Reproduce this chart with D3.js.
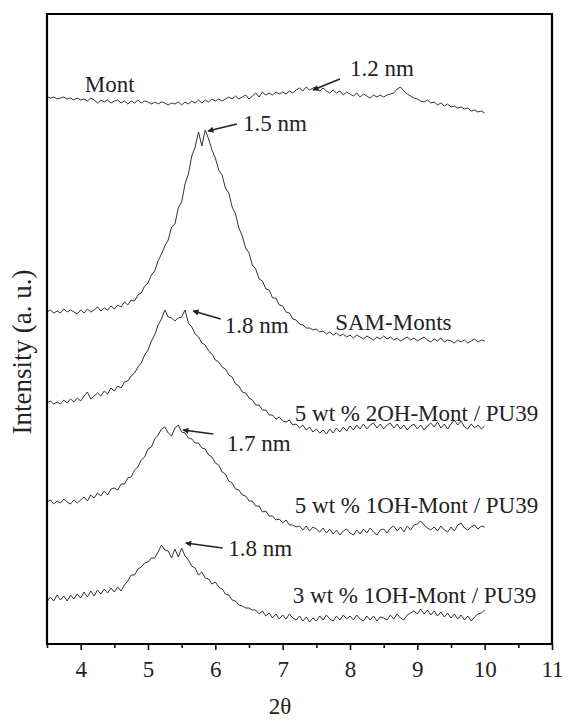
<!DOCTYPE html>
<html>
<head>
<meta charset="utf-8">
<script src="https://cdn.jsdelivr.net/npm/d3@7"></script>
<style>
  html, body { margin: 0; padding: 0; background: #fff; overflow: hidden; }
  svg { display: block; }
  text { font-family: "Liberation Serif", "Times New Roman", serif; fill: #222; }
</style>
</head>
<body>
<script>
// XRD patterns, 2 theta from 3.5 to 10, step 0.05 (intensity is arbitrary, curves stacked)
let twoTheta = [
  3.5, 3.55, 3.6, 3.65, 3.7, 3.75, 3.8, 3.85, 3.9, 3.95,
  4.0, 4.05, 4.1, 4.15, 4.2, 4.25, 4.3, 4.35, 4.4, 4.45,
  4.5, 4.55, 4.6, 4.65, 4.7, 4.75, 4.8, 4.85, 4.9, 4.95,
  5.0, 5.05, 5.1, 5.15, 5.2, 5.25, 5.3, 5.35, 5.4, 5.45,
  5.5, 5.55, 5.6, 5.65, 5.7, 5.75, 5.8, 5.85, 5.9, 5.95,
  6.0, 6.05, 6.1, 6.15, 6.2, 6.25, 6.3, 6.35, 6.4, 6.45,
  6.5, 6.55, 6.6, 6.65, 6.7, 6.75, 6.8, 6.85, 6.9, 6.95,
  7.0, 7.05, 7.1, 7.15, 7.2, 7.25, 7.3, 7.35, 7.4, 7.45,
  7.5, 7.55, 7.6, 7.65, 7.7, 7.75, 7.8, 7.85, 7.9, 7.95,
  8.0, 8.05, 8.1, 8.15, 8.2, 8.25, 8.3, 8.35, 8.4, 8.45,
  8.5, 8.55, 8.6, 8.65, 8.7, 8.75, 8.8, 8.85, 8.9, 8.95,
  9.0, 9.05, 9.1, 9.15, 9.2, 9.25, 9.3, 9.35, 9.4, 9.45,
  9.5, 9.55, 9.6, 9.65, 9.7, 9.75, 9.8, 9.85, 9.9, 9.95,
  10.0
];

let mont = [
  547, 546, 547, 545, 546, 547, 545, 546, 544, 546,
  544, 545, 543, 546, 544, 541, 544, 542, 544, 541,
  543, 544, 541, 543, 540, 543, 541, 544, 541, 543,
  542, 540, 542, 540, 542, 541, 539, 541, 540, 542,
  539, 542, 540, 543, 541, 544, 541, 544, 542, 545,
  543, 545, 543, 545, 547, 545, 548, 545, 547, 549,
  545, 548, 551, 547, 552, 549, 551, 549, 552, 550,
  552, 550, 553, 551, 554, 556, 553, 557, 554, 556,
  557, 553, 556, 553, 551, 554, 551, 553, 549, 552,
  550, 548, 551, 547, 550, 548, 546, 549, 547, 549,
  547, 549, 550, 551, 555, 557, 553, 550, 548, 546,
  545, 543, 542, 544, 541, 542, 539, 541, 538, 540,
  537, 538, 536, 537, 535, 536, 533, 534, 532, 533,
  531
];

let samMonts = [
  332, 334, 331, 333, 331, 335, 332, 334, 332, 330,
  334, 331, 335, 332, 334, 337, 333, 336, 334, 338,
  335, 339, 337, 342, 339, 344, 343, 349, 351, 358,
  361, 369, 373, 383, 390, 398, 404, 417, 420, 436,
  442, 460, 470, 488, 497, 512, 498, 514, 505, 494,
  486, 474, 469, 456, 451, 437, 430, 416, 408, 396,
  391, 379, 375, 365, 363, 355, 354, 346, 346, 339,
  338, 332, 331, 325, 324, 320, 319, 316, 316, 314,
  315, 312, 313, 310, 312, 309, 311, 308, 310, 307,
  309, 306, 309, 307, 305, 308, 306, 304, 307, 305,
  308, 305, 307, 304, 306, 303, 305, 307, 304, 306,
  303, 305, 307, 304, 302, 305, 303, 306, 302, 304,
  303, 301, 304, 302, 304, 301, 303, 305, 302, 304,
  303
];

let oh2Pu5 = [
  241, 243, 240, 242, 240, 244, 241, 245, 242, 246,
  243, 248, 252, 245, 248, 251, 248, 253, 250, 256,
  253, 258, 256, 262, 263, 268, 271, 277, 281, 289,
  294, 303, 309, 319, 325, 334, 327, 326, 323, 326,
  327, 334, 321, 317, 310, 307, 301, 299, 293, 290,
  284, 282, 277, 275, 269, 267, 260, 258, 252, 251,
  246, 244, 239, 239, 234, 234, 229, 229, 225, 227,
  223, 222, 224, 219, 220, 216, 219, 214, 217, 212,
  215, 211, 214, 210, 215, 211, 216, 212, 217, 213,
  218, 214, 219, 215, 220, 215, 219, 221, 216, 220,
  215, 219, 221, 216, 220, 215, 219, 214, 218, 220,
  215, 219, 214, 218, 221, 217, 222, 216, 220, 215,
  220, 224, 219, 223, 217, 215, 220, 216, 219, 215,
  218
];

let oh1Pu5 = [
  142, 144, 140, 143, 141, 145, 142, 140, 144, 141,
  144, 147, 143, 149, 146, 151, 148, 153, 149, 155,
  156, 154, 160, 160, 166, 167, 174, 177, 184, 187,
  195, 197, 205, 209, 215, 217, 211, 208, 216, 219,
  212, 211, 206, 205, 201, 201, 196, 195, 189, 187,
  181, 179, 172, 170, 163, 161, 155, 154, 149, 148,
  143, 143, 138, 138, 132, 133, 128, 128, 124, 125,
  121, 124, 119, 119, 117, 118, 114, 118, 113, 117,
  115, 112, 116, 111, 115, 110, 114, 109, 113, 115,
  111, 109, 114, 110, 115, 111, 116, 112, 109, 114,
  115, 111, 116, 118, 113, 117, 112, 118, 114, 119,
  120, 123, 119, 116, 114, 117, 113, 118, 114, 112,
  117, 113, 119, 121, 116, 114, 117, 119, 115, 118,
  117
];

let oh1Pu3 = [
  42, 47, 43, 49, 44, 48, 43, 49, 45, 50,
  46, 52, 47, 53, 48, 54, 50, 55, 51, 56,
  52, 57, 53, 59, 63, 69, 69, 75, 77, 81,
  82, 86, 86, 92, 99, 94, 93, 86, 95, 87,
  96, 88, 84, 78, 76, 69, 72, 66, 65, 60,
  62, 57, 55, 50, 49, 44, 43, 39, 38, 36,
  36, 34, 34, 30, 33, 28, 31, 26, 30, 25,
  29, 25, 30, 26, 24, 28, 23, 27, 22, 26,
  23, 28, 24, 29, 25, 23, 28, 24, 29, 25,
  28, 24, 29, 25, 23, 28, 24, 28, 23, 27,
  26, 24, 29, 25, 30, 26, 24, 29, 31, 33,
  30, 35, 30, 34, 29, 33, 28, 32, 27, 31,
  26, 30, 25, 29, 24, 28, 23, 27, 30, 31,
  34
];

let seriesList = [mont, samMonts, oh2Pu5, oh1Pu5, oh1Pu3];

// curve names, placed at [2theta, intensity]
let curveLabels = ["Mont", "SAM-Monts", "5 wt % 2OH-Mont / PU39", "5 wt % 1OH-Mont / PU39", "3 wt % 1OH-Mont / PU39"];
let curveLabelAt = [[4.06, 552], [7.78, 314], [7.18, 223], [7.18, 131], [7.15, 41]];

// d-spacing notes: text, text position, arrow tail, arrow tip
let spacingLabels = ["1.2 nm", "1.5 nm", "1.8 nm", "1.7 nm", "1.8 nm"];
let spacingTextAt = [[8.0, 568], [6.41, 513], [6.14, 311], [6.17, 193], [6.19, 88]];
let arrowFrom = [[7.85, 565], [6.32, 520], [6.08, 325], [5.97, 210], [6.11, 96]];
let arrowTo = [[7.45, 554], [5.89, 513], [5.67, 333], [5.52, 214], [5.56, 101]];

let xTicks = [4, 5, 6, 7, 8, 9, 10, 11];
let xMinorTicks = [3.5, 4.5, 5.5, 6.5, 7.5, 8.5, 9.5, 10.5];

// globals
let width = 568;
let height = 720;
let plotLeft = 47, plotRight = 552, plotTop = 14, plotBottom = 644;

let x = d3.scaleLinear().domain([3.5, 11]).range([plotLeft, plotRight]);
let y = d3.scaleLinear().domain([0, 630]).range([plotBottom, plotTop]);

let svg = d3
  .select("body")
  .append("svg")
  .attr("width", width)
  .attr("height", height);

svg
  .append("defs")
  .append("marker")
  .attr("id", "head")
  .attr("viewBox", "0 0 10 10")
  .attr("refX", 9)
  .attr("refY", 5)
  .attr("markerWidth", 9)
  .attr("markerHeight", 6)
  .attr("markerUnits", "userSpaceOnUse")
  .attr("orient", "auto")
  .append("path")
  .attr("d", "M0,0 L10,5 L0,10 z")
  .attr("fill", "#222");

// curves
let line = d3
  .line()
  .x((d, i) => x(twoTheta[i]))
  .y(d => y(d));

svg
  .append("g")
  .selectAll("path")
  .data(seriesList)
  .enter()
  .append("path")
  .attr("d", line)
  .attr("fill", "none")
  .attr("stroke", "#333")
  .attr("stroke-width", 1)
  .attr("stroke-linejoin", "round");

// box round the plot
svg
  .append("path")
  .attr("d", `M${plotLeft},${plotTop}H${plotRight}V${plotBottom}H${plotLeft}Z`)
  .attr("fill", "none")
  .attr("stroke", "#000")
  .attr("stroke-width", 2.2);

// bottom axis with outward ticks
svg
  .append("g")
  .attr("transform", `translate(0,${plotBottom})`)
  .call(d3.axisBottom(x).tickValues(xTicks).tickSize(6).tickSizeOuter(0).tickPadding(11).tickFormat(d3.format("d")))
  .call(g => g.select(".domain").remove())
  .call(g => g.selectAll(".tick line").attr("stroke", "#111").attr("stroke-width", 1.6))
  .call(g =>
    g
      .selectAll(".tick text")
      .attr("font-family", "Liberation Serif")
      .attr("font-size", 23)
      .attr("fill", "#222")
  );

svg
  .append("g")
  .attr("transform", `translate(0,${plotBottom})`)
  .call(d3.axisBottom(x).tickValues(xMinorTicks).tickSize(4).tickFormat(""))
  .call(g => g.select(".domain").remove())
  .call(g => g.selectAll(".tick line").attr("stroke", "#111").attr("stroke-width", 1.6));

// axis titles
svg
  .append("text")
  .attr("x", 280)
  .attr("y", 714)
  .attr("text-anchor", "middle")
  .attr("font-size", 23)
  .text("2θ");

svg
  .append("text")
  .attr("transform", "translate(31,352) rotate(-90)")
  .attr("text-anchor", "middle")
  .attr("font-size", 27)
  .text("Intensity (a. u.)");

// curve names
svg
  .append("g")
  .selectAll("text")
  .data(curveLabels)
  .enter()
  .append("text")
  .attr("x", (d, i) => x(curveLabelAt[i][0]))
  .attr("y", (d, i) => y(curveLabelAt[i][1]))
  .attr("font-size", 23)
  .text(d => d);

// d-spacing notes with arrows
svg
  .append("g")
  .selectAll("text")
  .data(spacingLabels)
  .enter()
  .append("text")
  .attr("x", (d, i) => x(spacingTextAt[i][0]))
  .attr("y", (d, i) => y(spacingTextAt[i][1]))
  .attr("font-size", 23)
  .text(d => d);

svg
  .append("g")
  .selectAll("line")
  .data(arrowFrom)
  .enter()
  .append("line")
  .attr("x1", d => x(d[0]))
  .attr("y1", d => y(d[1]))
  .attr("x2", (d, i) => x(arrowTo[i][0]))
  .attr("y2", (d, i) => y(arrowTo[i][1]))
  .attr("stroke", "#222")
  .attr("stroke-width", 1.5)
  .attr("marker-end", "url(#head)");
</script>
</body>
</html>
